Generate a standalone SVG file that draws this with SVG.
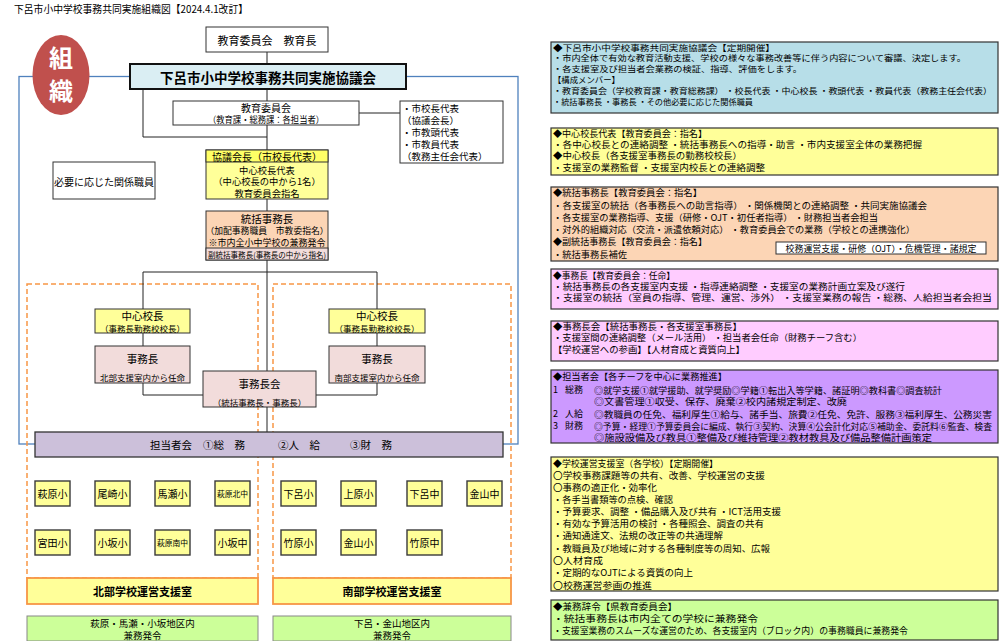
<svg xmlns="http://www.w3.org/2000/svg" width="1000" height="641" viewBox="0 0 1000 641">
<style>
text{font-family:"Noto Sans CJK JP","Liberation Sans",sans-serif;fill:#000;dominant-baseline:central}
.c{text-anchor:middle}
.b{stroke:#333;stroke-width:1}
.ln{stroke:#222;stroke-width:1;fill:none}
.p{font-size:9px}
.pl{font-size:8.6px}
.pt{font-size:8.5px}
.pn{stroke:#333;stroke-width:1.2}
.sc{fill:#ffff99;stroke:#3a3a3a;stroke-width:1.4}
.st{font-size:10px;text-anchor:middle}
.ss{font-size:7.8px;text-anchor:middle}
.dash{fill:none;stroke:#f79646;stroke-width:1.5;stroke-dasharray:5 3}
</style>
<rect width="1000" height="641" fill="#fff"/>
<text x="14" y="8" font-size="10.5" textLength="234" lengthAdjust="spacingAndGlyphs">下呂市小中学校事務共同実施組織図【2024.4.1改訂】</text>

<!-- frames -->
<rect x="19" y="76.5" width="499" height="367.5" fill="none" stroke="#4f81bd" stroke-width="1.3"/>
<rect class="dash" x="27" y="284" width="231" height="294"/>
<rect class="dash" x="273" y="284" width="238" height="294"/>

<g id="connectors">
<path class="ln" d="M267,52V64 M267,89V101 M267,125V150 M143,89V137H267 M359,113H400 M267,199V211 M267,260V371 M143,309V272H377V309 M143,333V346 M377,333V346 M143,383V395H203 M377,383V395H316 M267,407V432"/>
</g>

<g id="soshiki">
<ellipse cx="61" cy="75" rx="28.5" ry="40" fill="#c0504d"/>
<text x="61" y="56" class="c" font-size="24" font-weight="bold" style="fill:#fff">組</text>
<text x="61" y="89" class="c" font-size="24" font-weight="bold" style="fill:#fff">織</text>
</g>

<g id="kyoikucho">
<rect class="b" x="206" y="27" width="122" height="25" fill="#fff"/>
<text x="267" y="39.5" class="c" font-size="11">教育委員会　教育長</text>
</g>

<g id="kyogikai">
<rect x="130" y="64" width="276" height="25" fill="#daeef3" stroke="#111" stroke-width="2"/>
<text x="268" y="76.5" class="c" font-size="13.5" font-weight="bold">下呂市小中学校事務共同実施協議会</text>
</g>

<g id="kyoikuiinkai">
<rect class="b" x="173" y="101" width="186" height="24" fill="#fff"/>
<text x="266" y="107" class="c" font-size="10">教育委員会</text>
<text x="266" y="119" class="c" font-size="9" textLength="116" lengthAdjust="spacingAndGlyphs">（教育課・総務課：各担当者）</text>
</g>

<g id="members">
<rect class="b" x="400" y="101" width="103" height="62" fill="#fff"/>
<text x="402" y="107.5" font-size="9.5">・市校長代表</text>
<text x="402" y="119.5" font-size="9.5">（協議会長）</text>
<text x="402" y="132" font-size="9.5">・市教頭代表</text>
<text x="402" y="144" font-size="9.5">・市教員代表</text>
<text x="402" y="156" font-size="9.5">（教務主任会代表）</text>
</g>

<g id="kankei">
<rect class="b" x="53" y="162" width="102" height="37" fill="#fff"/>
<text x="104" y="181" class="c" font-size="10">必要に応じた関係職員</text>
</g>

<g id="kaicho">
<rect class="b" x="206" y="150" width="122" height="49" fill="#ffff99"/>
<rect class="b" x="206" y="150" width="122" height="12" fill="#ffff66"/>
<text x="267" y="156" class="c" font-size="10">協議会長（市校長代表）</text>
<text x="267" y="169.5" class="c" font-size="9.3">中心校長代表</text>
<text x="267" y="181" class="c" font-size="9.3">（中心校長の中から1名）</text>
<text x="267" y="192.5" class="c" font-size="9.3">教育委員会指名</text>
</g>

<g id="tokatsu">
<rect class="b" x="206" y="211" width="122" height="49" fill="#fcd5b5"/>
<rect class="b" x="206" y="248" width="122" height="12" fill="#f2dcdb"/>
<text x="267" y="218" class="c" font-size="10.5">統括事務長</text>
<text x="267" y="230.5" class="c" font-size="8.8">（加配事務職員　市教委指名）</text>
<text x="267" y="242" class="c" font-size="9">※市内全小中学校の兼務発令</text>
<text x="267" y="254.5" class="c" font-size="8" textLength="118" lengthAdjust="spacingAndGlyphs">副統括事務長(事務長の中から指名)</text>
</g>

<g id="chushin-n">
<rect class="b" x="95" y="309" width="95" height="24" fill="#ffff99"/>
<text x="142.5" y="315.5" class="c" font-size="10.5">中心校長</text>
<text x="142.5" y="327.5" class="c" font-size="8.5">（事務長勤務校校長）</text>
</g>
<g id="chushin-s">
<rect class="b" x="329" y="309" width="96" height="24" fill="#ffff99"/>
<text x="377" y="315.5" class="c" font-size="10.5">中心校長</text>
<text x="377" y="327.5" class="c" font-size="8.5">（事務長勤務校校長）</text>
</g>
<g id="jimucho-n">
<rect class="b" x="95" y="346" width="95" height="37" fill="#f2dcdb"/>
<text x="142.5" y="358" class="c" font-size="10.5">事務長</text>
<text x="142.5" y="377" class="c" font-size="8.5">北部支援室内から任命</text>
</g>
<g id="jimucho-s">
<rect class="b" x="329" y="346" width="96" height="37" fill="#f2dcdb"/>
<text x="377" y="358" class="c" font-size="10.5">事務長</text>
<text x="377" y="377" class="c" font-size="8.5">南部支援室内から任命</text>
</g>
<g id="jimuchokai">
<rect class="b" x="203" y="371" width="113" height="36" fill="#f2dcdb"/>
<text x="259.5" y="383" class="c" font-size="10.5">事務長会</text>
<text x="259.5" y="401.5" class="c" font-size="8.5">（統括事務長・事務長）</text>
</g>

<g id="tantosha">
<rect x="35" y="432" width="468" height="25" fill="#ccc0da" stroke="#333" stroke-width="1.3"/>
<text x="150" y="444.5" font-size="10.5">担当者会</text>
<text x="203" y="444.5" font-size="10.5">①総　務</text>
<text x="278" y="444.5" font-size="10.5">②人　給</text>
<text x="350" y="444.5" font-size="10.5">③財　務</text>
</g>

<g id="schools-n">
<rect class="sc" x="35" y="481" width="35" height="25"/><text x="52.5" y="493.5" class="st">萩原小</text>
<rect class="sc" x="95" y="481" width="35" height="25"/><text x="112.5" y="493.5" class="st">尾崎小</text>
<rect class="sc" x="155" y="481" width="35" height="25"/><text x="172.5" y="493.5" class="st">馬瀬小</text>
<rect class="sc" x="215" y="481" width="35" height="25"/><text x="232.5" y="493.5" class="ss">萩原北中</text>
<rect class="sc" x="35" y="530" width="35" height="25"/><text x="52.5" y="542.5" class="st">宮田小</text>
<rect class="sc" x="95" y="530" width="35" height="25"/><text x="112.5" y="542.5" class="st">小坂小</text>
<rect class="sc" x="155" y="530" width="35" height="25"/><text x="172.5" y="542.5" class="ss">萩原南中</text>
<rect class="sc" x="215" y="530" width="35" height="25"/><text x="232.5" y="542.5" class="st">小坂中</text>
</g>
<g id="schools-s">
<rect class="sc" x="281" y="481" width="35" height="25"/><text x="298.5" y="493.5" class="st">下呂小</text>
<rect class="sc" x="341" y="481" width="35" height="25"/><text x="358.5" y="493.5" class="st">上原小</text>
<rect class="sc" x="407" y="481" width="35" height="25"/><text x="424.5" y="493.5" class="st">下呂中</text>
<rect class="sc" x="467" y="481" width="35" height="25"/><text x="484.5" y="493.5" class="st">金山中</text>
<rect class="sc" x="281" y="530" width="35" height="25"/><text x="298.5" y="542.5" class="st">竹原小</text>
<rect class="sc" x="341" y="530" width="35" height="25"/><text x="358.5" y="542.5" class="st">金山小</text>
<rect class="sc" x="407" y="530" width="35" height="25"/><text x="424.5" y="542.5" class="st">竹原中</text>
</g>

<g id="shien-n">
<rect x="27" y="578" width="231" height="26" fill="#ffff99" stroke="#f79646" stroke-width="1.8"/>
<text x="142.5" y="591" class="c" font-size="11" font-weight="bold">北部学校運営支援室</text>
</g>
<g id="shien-s">
<rect x="273" y="578" width="238" height="26" fill="#ffff99" stroke="#f79646" stroke-width="1.8"/>
<text x="392" y="591" class="c" font-size="11" font-weight="bold">南部学校運営支援室</text>
</g>
<g id="kenmu-n">
<rect x="27" y="616" width="231" height="25" fill="#ccff99" stroke="#888" stroke-width="1"/>
<text x="142.5" y="622.5" class="c" font-size="9.5">萩原・馬瀬・小坂地区内</text>
<text x="142.5" y="634.5" class="c" font-size="9.5">兼務発令</text>
</g>
<g id="kenmu-s">
<rect x="273" y="616" width="238" height="25" fill="#ccff99" stroke="#888" stroke-width="1"/>
<text x="392" y="622.5" class="c" font-size="9.5">下呂・金山地区内</text>
<text x="392" y="634.5" class="c" font-size="9.5">兼務発令</text>
</g>

<g id="panel-kyogikai">
<rect class="pn" x="551" y="42" width="447" height="71" fill="#b7dee8"/>
<text class="pt" x="553" y="46.5" textLength="222" lengthAdjust="spacingAndGlyphs">◆下呂市小中学校事務共同実施協議会【定期開催】</text>
<text class="pt" x="553" y="57" textLength="413" lengthAdjust="spacingAndGlyphs">・市内全体で有効な教育活動支援、学校の様々な事務改善等に伴う内容について審議、決定します。</text>
<text class="pt" x="553" y="67.5" textLength="249" lengthAdjust="spacingAndGlyphs">・各支援室及び担当者会業務の検証、指導、評価をします。</text>
<text class="pt" x="553" y="78.5" textLength="67" lengthAdjust="spacingAndGlyphs">【構成メンバー】</text>
<text class="pt" x="553" y="89.5" textLength="439" lengthAdjust="spacingAndGlyphs">・教育委員会（学校教育課・教育総務課） ・校長代表 ・中心校長 ・教頭代表 ・教員代表（教務主任会代表）</text>
<text class="pt" x="553" y="101" textLength="200" lengthAdjust="spacingAndGlyphs">・統括事務長 ・事務長 ・その他必要に応じた関係職員</text>
</g>

<g id="panel-chushin">
<rect class="pn" x="551" y="128" width="447" height="47" fill="#ffff99"/>
<text class="p" x="553" y="133.5" textLength="154" lengthAdjust="spacingAndGlyphs">◆中心校長代表【教育委員会：指名】</text>
<text class="p" x="553" y="144.5" textLength="369" lengthAdjust="spacingAndGlyphs">・各中心校長との連絡調整 ・統括事務長への指導・助言 ・市内支援室全体の業務把握</text>
<text class="p" x="553" y="155.5" textLength="189" lengthAdjust="spacingAndGlyphs">◆中心校長（各支援室事務長の勤務校校長）</text>
<text class="p" x="553" y="167" textLength="212" lengthAdjust="spacingAndGlyphs">・支援室の業務監督 ・支援室内校長との連絡調整</text>
</g>

<g id="panel-tokatsu">
<rect class="pn" x="551" y="187" width="447" height="74" fill="#fcd5b5"/>
<text class="p" x="553" y="192.5" textLength="149" lengthAdjust="spacingAndGlyphs">◆統括事務長【教育委員会：指名】</text>
<text class="p" x="553" y="205" textLength="374" lengthAdjust="spacingAndGlyphs">・各支援室の統括（各事務長への助言指導） ・関係機関との連絡調整 ・共同実施協議会</text>
<text class="p" x="553" y="217" textLength="325" lengthAdjust="spacingAndGlyphs">・各支援室の業務指導、支援（研修・OJT・初任者指導） ・財務担当者会担当</text>
<text class="p" x="553" y="229.5" textLength="362" lengthAdjust="spacingAndGlyphs">・対外的組織対応（交流・派遣依頼対応） ・教育委員会での業務（学校との連携強化）</text>
<text class="p" x="553" y="241.5" textLength="154" lengthAdjust="spacingAndGlyphs">◆副統括事務長【教育委員会：指名】</text>
<text class="p" x="553" y="254" textLength="74" lengthAdjust="spacingAndGlyphs">・統括事務長補佐</text>
<rect x="776" y="242" width="210" height="12" fill="#fff" stroke="#333" stroke-width="1"/>
<text x="881" y="248" class="c" font-size="8.6" textLength="191" lengthAdjust="spacingAndGlyphs">校務運営支援・研修（OJT）・危機管理・諸規定</text>
</g>

<g id="panel-jimucho">
<rect class="pn" x="551" y="269" width="447" height="40" fill="#ffccff"/>
<text class="p" x="553" y="275" textLength="122" lengthAdjust="spacingAndGlyphs">◆事務長【教育委員会：任命】</text>
<text class="p" x="553" y="286" textLength="352" lengthAdjust="spacingAndGlyphs">・統括事務長の各支援室内支援 ・指導連絡調整 ・支援室の業務計画立案及び遂行</text>
<text class="pl" x="553" y="297" textLength="439" lengthAdjust="spacingAndGlyphs">・支援室の統括（室員の指導、管理、運営、渉外） ・支援室業務の報告 ・総務、人給担当者会担当</text>
</g>

<g id="panel-jimuchokai">
<rect class="pn" x="551" y="321" width="447" height="40" fill="#ffccff"/>
<text class="p" x="553" y="326.5" textLength="189" lengthAdjust="spacingAndGlyphs">◆事務長会【統括事務長・各支援室事務長】</text>
<text class="p" x="553" y="337.5" textLength="309" lengthAdjust="spacingAndGlyphs">・支援室間の連絡調整（メール活用） ・担当者会任命（財務チーフ含む）</text>
<text class="p" x="553" y="349" textLength="192" lengthAdjust="spacingAndGlyphs">【学校運営への参画】【人材育成と資質向上】</text>
</g>

<g id="panel-tantosha">
<rect class="pn" x="551" y="370" width="447" height="73" fill="#cc99ff"/>
<text class="p" x="553" y="376" textLength="174" lengthAdjust="spacingAndGlyphs">◆担当者会【各チーフを中心に業務推進】</text>
<text class="p" x="553" y="389.5">1</text><text class="p" x="565" y="389.5">総務</text>
<text class="pl" x="594" y="389.5" textLength="348" lengthAdjust="spacingAndGlyphs">◎就学支援①就学援助、就学奨励◎学籍①転出入等学籍、諸証明◎教科書◎調査統計</text>
<text class="p" x="594" y="401.5" textLength="253" lengthAdjust="spacingAndGlyphs">◎文書管理①収受、保存、廃棄②校内諸規定制定、改廃</text>
<text class="p" x="553" y="413.5">2</text><text class="p" x="565" y="413.5">人給</text>
<text class="pl" x="594" y="413.5" textLength="398" lengthAdjust="spacingAndGlyphs">◎教職員の任免、福利厚生①給与、諸手当、旅費②任免、免許、服務③福利厚生、公務災害</text>
<text class="p" x="553" y="425.5">3</text><text class="p" x="565" y="425.5">財務</text>
<text class="pl" x="594" y="425.5" textLength="398" lengthAdjust="spacingAndGlyphs">◎予算・経理①予算委員会に編成、執行③契約、決算④公会計化対応⑤補助金、委託料⑥監査、検査</text>
<text class="p" x="594" y="437" textLength="338" lengthAdjust="spacingAndGlyphs">◎施設設備及び教具①整備及び維持管理②教材教具及び備品整備計画策定</text>
</g>

<g id="panel-shienshitsu">
<rect class="pn" x="551" y="457" width="447" height="134" fill="#ffff99"/>
<text class="p" x="553" y="463" textLength="165" lengthAdjust="spacingAndGlyphs">◆学校運営支援室（各学校）【定期開催】</text>
<text class="p" x="553" y="475" textLength="212" lengthAdjust="spacingAndGlyphs">〇学校事務課題等の共有、改善、学校運営の支援</text>
<text class="p" x="553" y="487" textLength="104" lengthAdjust="spacingAndGlyphs">〇事務の適正化・効率化</text>
<text class="p" x="553" y="499" textLength="120" lengthAdjust="spacingAndGlyphs">・各手当書類等の点検、確認</text>
<text class="p" x="553" y="511.5" textLength="228" lengthAdjust="spacingAndGlyphs">・予算要求、調整 ・備品購入及び共有 ・ICT活用支援</text>
<text class="p" x="553" y="523.5" textLength="211" lengthAdjust="spacingAndGlyphs">・有効な予算活用の検討 ・各種照会、調査の共有</text>
<text class="p" x="553" y="535.5" textLength="170" lengthAdjust="spacingAndGlyphs">・通知通達文、法規の改正等の共通理解</text>
<text class="p" x="553" y="548" textLength="217" lengthAdjust="spacingAndGlyphs">・教職員及び地域に対する各種制度等の周知、広報</text>
<text class="p" x="553" y="560" textLength="50" lengthAdjust="spacingAndGlyphs">〇人材育成</text>
<text class="p" x="553" y="572.5" textLength="140" lengthAdjust="spacingAndGlyphs">・定期的なOJTによる資質の向上</text>
<text class="p" x="553" y="585" textLength="99" lengthAdjust="spacingAndGlyphs">〇校務運営参画の推進</text>
</g>

<g id="panel-kenmu">
<rect class="pn" x="551" y="600" width="447" height="40" fill="#ccff99"/>
<text class="p" x="553" y="606" textLength="124" lengthAdjust="spacingAndGlyphs">◆兼務辞令【県教育委員会】</text>
<text class="p" x="553" y="618" textLength="205" lengthAdjust="spacingAndGlyphs">・統括事務長は市内全ての学校に兼務発令</text>
<text class="p" x="553" y="630" textLength="355" lengthAdjust="spacingAndGlyphs">・支援室業務のスムーズな運営のため、各支援室内（ブロック内）の事務職員に兼務発令</text>
</g>
</svg>
